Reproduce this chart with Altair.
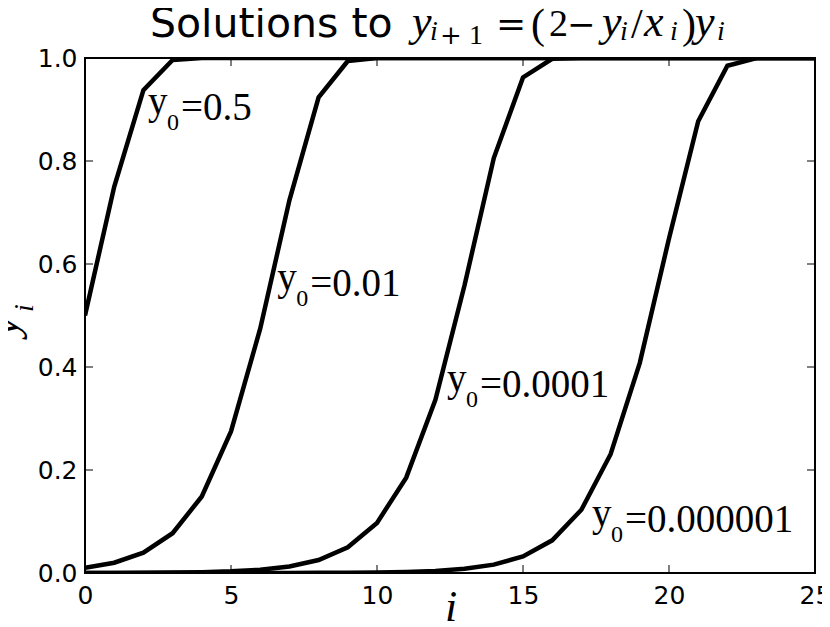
import altair as alt
import pandas as pd

# ---- data ----
steps = list(range(26))
y0_values = ["0.5", "0.01", "0.0001", "0.000001"]
sol_a = [0.5, 0.75, 0.9375, 0.996094, 0.999985, 1.0, 1.0, 1.0, 1.0, 1.0, 1.0, 1.0, 1.0,
         1.0, 1.0, 1.0, 1.0, 1.0, 1.0, 1.0, 1.0, 1.0, 1.0, 1.0, 1.0, 1.0]
sol_b = [0.01, 0.0199, 0.039404, 0.077255, 0.148542, 0.275019, 0.474403, 0.723748, 0.923685,
         0.994176, 0.999966, 1.0, 1.0, 1.0, 1.0, 1.0, 1.0, 1.0, 1.0, 1.0, 1.0, 1.0, 1.0, 1.0, 1.0, 1.0]
sol_c = [0.0001, 0.0002, 0.0004, 0.0008, 0.001599, 0.003195, 0.00638, 0.012719, 0.025276,
         0.049913, 0.097335, 0.185196, 0.336094, 0.559229, 0.805721, 0.962255, 0.998575,
         0.999998, 1.0, 1.0, 1.0, 1.0, 1.0, 1.0, 1.0, 1.0]
sol_d = [0.000001, 0.000002, 0.000004, 0.000008, 0.000016, 0.000032, 0.000064, 0.000128,
         0.000256, 0.000512, 0.001023, 0.002046, 0.004088, 0.008159, 0.016251, 0.032237,
         0.063435, 0.122846, 0.230601, 0.408025, 0.64957, 0.877199, 0.98492, 0.999773, 1.0, 1.0]
label_i = [2.16, 6.58, 12.40, 17.36]
label_y = [0.880, 0.538, 0.342, 0.080]
x_ticks = [0, 5, 10, 15, 20, 25]
y_ticks = [0.0, 0.2, 0.4, 0.6, 0.8, 1.0]

rows = []
for name, ser in zip(y0_values, [sol_a, sol_b, sol_c, sol_d]):
    for i, v in zip(steps, ser):
        rows.append({"series": name, "i": i, "y": v})
df = pd.DataFrame(rows)
labels = pd.DataFrame({"i": label_i, "y": label_y, "txt": ["=" + v for v in y0_values]})
xt = pd.DataFrame({"i": x_ticks})
yt = pd.DataFrame({"y": y_ticks})
dummy = pd.DataFrame({"a": [0]})

W, H = 730, 515
xs = alt.Scale(domain=[0, 25], nice=False, zero=False)
ys = alt.Scale(domain=[0, 1], nice=False, zero=False)
x_axis = alt.Axis(values=x_ticks, format="d", title=None, ticks=False, domain=False, grid=False,
                  labelFont="DejaVu Sans", labelFontSize=25, labelColor="black", labelPadding=10,
                  labelFlush=False, labelOverlap=False, labelBound=False)
y_axis = alt.Axis(values=y_ticks, format=".1f", title=None, ticks=False, domain=False, grid=False,
                  labelFont="DejaVu Sans", labelFontSize=25, labelColor="black", labelPadding=8,
                  labelFlush=False, labelOverlap=False, labelBound=False)
X = alt.X("i:Q", scale=xs, axis=x_axis)
Y = alt.Y("y:Q", scale=ys, axis=y_axis)
SERIF = "Liberation Serif"

lines = alt.Chart(df).mark_line(color="black", strokeWidth=4.5, clip=True).encode(
    x=X, y=Y, detail="series:N")

ticks = [
    alt.Chart(xt).mark_rule(color="black", strokeWidth=1).encode(x=X, y=alt.value(H), y2=alt.value(H - 8)),
    alt.Chart(xt).mark_rule(color="black", strokeWidth=1).encode(x=X, y=alt.value(0), y2=alt.value(8)),
    alt.Chart(yt).mark_rule(color="black", strokeWidth=1).encode(y=Y, x=alt.value(0), x2=alt.value(8)),
    alt.Chart(yt).mark_rule(color="black", strokeWidth=1).encode(y=Y, x=alt.value(W - 8), x2=alt.value(W)),
]

def lab(dx, dy, size, text_field=None, text=None):
    kw = dict(font=SERIF, fontSize=size, align="left", baseline="alphabetic",
              dx=dx, dy=dy, color="black")
    if text:
        kw["text"] = text
    enc = dict(x=X, y=Y)
    if text_field:
        enc["text"] = text_field
    return alt.Chart(labels).mark_text(**kw).encode(**enc)

label_layers = [
    lab(0, -6, 39, text="y"),
    lab(19, 10, 24, text="0"),
    lab(33, 0, 39, text_field="txt:N"),
]

def piece(s, x, y, size, font=SERIF, style="normal", angle=0, align="left"):
    kw = dict(text=s, font=font, fontSize=size, fontStyle=style, align=align,
              baseline="alphabetic", color="black")
    if angle:
        kw["angle"] = angle
    return alt.Chart(dummy).mark_text(**kw).encode(x=alt.value(x), y=alt.value(y))

IT = "italic"
title_pieces = [
    piece("Solutions to", 65, -21, 41, font="DejaVu Sans"),
    piece("y", 327, -22, 44, style=IT),
    piece("i", 345, -18, 28, style=IT),
    piece("+", 355, -14, 26, font="DejaVu Serif"),
    piece("1", 384, -14, 28),
    piece("=", 411, -22, 36, font="DejaVu Serif"),
    piece("(", 446, -20, 42),
    piece("2", 464, -22, 38),
    piece("\u2212", 482, -22, 34, font="DejaVu Serif"),
    piece("y", 517, -22, 44, style=IT),
    piece("i", 535, -18, 28, style=IT),
    piece("/", 546, -20, 42),
    piece("x", 559, -22, 44, style=IT),
    piece("i", 585, -18, 28, style=IT),
    piece(")", 597, -20, 42),
    piece("y", 610, -22, 44, style=IT),
    piece("i", 632, -18, 28, style=IT),
]
axis_titles = [
    piece("y", -67, 278, 44, style=IT, angle=270),
    piece("i", -52, 254, 28, style=IT, angle=270),
    piece("i", 366, 563, 44, style=IT, align="center"),
]

chart = alt.layer(lines, *ticks, *label_layers, *title_pieces, *axis_titles).properties(
    width=W, height=H,
    autosize=alt.AutoSizeParams(type="none"),
    padding={"left": 77, "top": 50, "right": 7, "bottom": 54},
).configure_view(stroke="black", strokeWidth=2)

chart.save("out.html", embed_options={"renderer": "svg", "actions": False})
